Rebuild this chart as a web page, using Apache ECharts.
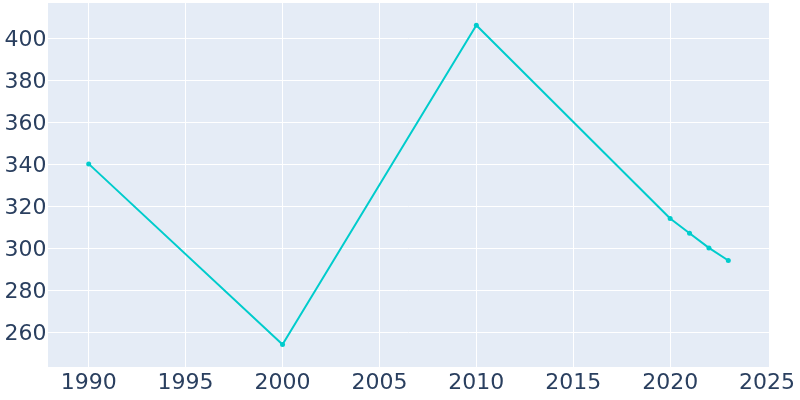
<!DOCTYPE html>
<html>
<head>
<meta charset="utf-8">
<script src="https://cdn.jsdelivr.net/npm/echarts@6/dist/echarts.min.js"></script>
<style>html,body{margin:0;padding:0;background:#fff}#c{width:800px;height:400px}</style>
</head>
<body>
<div id="c"></div>
<script>
const years = [1990, 2000, 2010, 2020, 2021, 2022, 2023];
const population = [340, 254, 406, 314, 307, 300, 294];
const xTicks = [1990, 1995, 2000, 2005, 2010, 2015, 2020, 2025];
const yTicks = [260, 280, 300, 320, 340, 360, 380, 400];

const chart = echarts.init(document.getElementById('c'), null, {renderer: 'canvas'});
const font = 'DejaVu Sans';
chart.setOption({
  animation: false,
  backgroundColor: '#ffffff',
  grid: {left: 48, right: 31, top: 3, bottom: 33, containLabel: false,
         show: true, backgroundColor: '#e5ecf6', borderWidth: 0},
  xAxis: {
    type: 'value', min: 1987.9, max: 2025.1,
    axisLine: {show: false}, axisTick: {show: false},
    splitLine: {show: false},
    axisLabel: {show: false}
  },
  yAxis: {
    type: 'value', min: 243.3, max: 416.6,
    axisLine: {show: false}, axisTick: {show: false},
    splitLine: {show: false},
    axisLabel: {show: false}
  },
  series: [
    {
      type: 'line', silent: true, symbol: 'none',
      data: [],
      markLine: {
        silent: true, symbol: 'none', animation: false,
        label: {show: false},
        lineStyle: {color: '#ffffff', width: 1, type: 'solid'},
        data: [
          ...xTicks.filter(v => v < 2025).map(v => ({xAxis: v})),
          ...yTicks.map(v => ({yAxis: v}))
        ]
      }
    },
    {
      type: 'line',
      data: years.map((y, i) => [y, population[i]]),
      symbol: 'circle', symbolSize: 5,
      lineStyle: {color: '#00cccc', width: 2},
      itemStyle: {color: '#00cccc'},
      z: 5
    }
  ]
});

function drawLabels() {
  const g = [];
  xTicks.forEach(v => {
    const p = chart.convertToPixel({gridIndex: 0}, [v, 243.3]);
    g.push({type: 'text', x: p[0], y: p[1] + 5,
      style: {text: String(v), font: '22px ' + font, fill: '#2a3f5f', textAlign: 'center', textVerticalAlign: 'top'}});
  });
  yTicks.forEach(v => {
    const p = chart.convertToPixel({gridIndex: 0}, [1987.9, v]);
    g.push({type: 'text', x: p[0] - 1.5, y: p[1] + 2,
      style: {text: String(v), font: '22px ' + font, fill: '#2a3f5f', textAlign: 'right', textVerticalAlign: 'middle'}});
  });
  chart.setOption({graphic: g});
}
drawLabels();
</script>
</body>
</html>
